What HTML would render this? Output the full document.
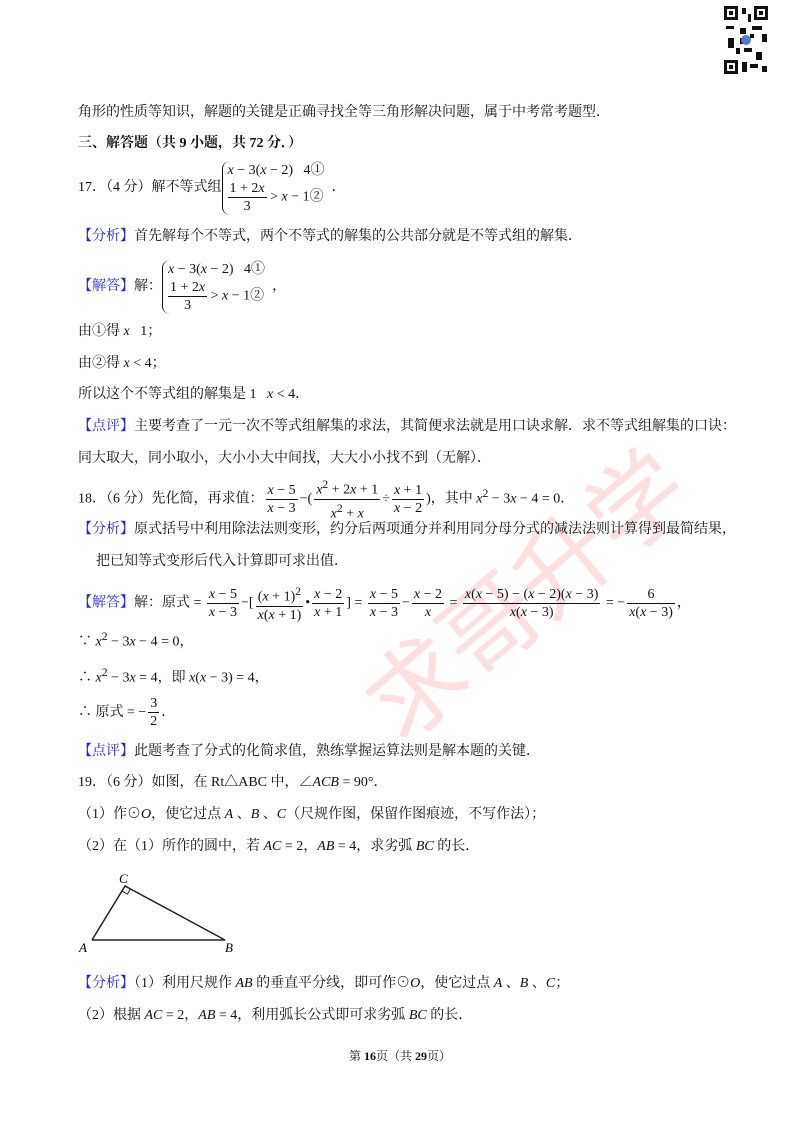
<!DOCTYPE html>
<html><head><meta charset="utf-8"><style>
body{margin:0;background:#fff}
#p{position:relative;width:800px;height:1132px;overflow:hidden;font-family:"Liberation Serif","Noto Serif CJK SC","Noto Sans CJK SC",serif;font-size:14px;color:#111}
.l{position:absolute;left:78px;white-space:nowrap;line-height:18px}
.b{color:#2323d8}
i{font-style:italic}
.fr{display:inline-block;vertical-align:middle;text-align:center;font-size:14px;line-height:17px;margin:0 2px}
.fr>span{display:block;padding:0 2px}
.fr>span:first-child{border-bottom:1px solid #111}
.br{display:inline-block;vertical-align:middle;border-left:1.5px solid #111;border-radius:8px 0 0 8px;padding-left:5px;font-size:14px;line-height:19px}
.wm{position:absolute;left:330px;top:520px;font-size:96px;color:rgba(240,80,80,0.18);transform:rotate(-40deg);font-family:"Noto Sans CJK SC",sans-serif;white-space:nowrap}
</style></head><body><div id="p">
<svg style="position:absolute;left:722px;top:4px" width="48" height="72" viewBox="0 0 48 72">
<rect width="48" height="72" fill="#fff"/>
<g fill="#111"><rect x="2" y="2" width="14" height="14"/><rect x="32" y="2" width="14" height="14"/><rect x="2" y="56" width="14" height="14"/>
<rect x="5" y="5" width="8" height="8" fill="#fff"/><rect x="35" y="5" width="8" height="8" fill="#fff"/><rect x="5" y="59" width="8" height="8" fill="#fff"/>
<rect x="7" y="7" width="4" height="4"/><rect x="37" y="7" width="4" height="4"/><rect x="7" y="61" width="4" height="4"/>
<rect x="20" y="4" width="4" height="6"/><rect x="26" y="10" width="3" height="8"/><rect x="4" y="22" width="8" height="3"/><rect x="18" y="24" width="6" height="6"/><rect x="30" y="22" width="10" height="4"/><rect x="40" y="30" width="5" height="8"/><rect x="6" y="34" width="6" height="10"/><rect x="22" y="44" width="8" height="4"/><rect x="34" y="48" width="6" height="8"/><rect x="20" y="58" width="5" height="10"/><rect x="28" y="60" width="8" height="4"/><rect x="40" y="62" width="5" height="6"/><rect x="14" y="44" width="4" height="6"/><rect x="18" y="34" width="3" height="6"/><rect x="28" y="30" width="4" height="4"/></g>
<circle cx="24" cy="36" r="5" fill="#4a7fd0"/></svg>
<div class="wm">求哥升学</div>
<div class="l" style="top:104px">角形的性质等知识，解题的关键是正确寻找全等三角形解决问题，属于中考常考题型．</div>
<div class="l" style="top:135px;font-weight:bold">三、解答题（共 9 小题，共 72 分．）</div>
<div class="l" style="top:158px;line-height:60px">17．（4 分）解不等式组<span class="br"><i>x</i> − 3(<i>x</i> − 2)&nbsp;&nbsp; 4①<br><span class="fr" style="margin:0"><span>1 + 2<i>x</i></span><span>3</span></span> &gt; <i>x</i> − 1②</span>&nbsp;&nbsp;．</div>
<div class="l" style="top:228px"><span class="b">【分析】</span>首先解每个不等式，两个不等式的解集的公共部分就是不等式组的解集．</div>
<div class="l" style="top:257px;line-height:60px"><span class="b">【解答】</span>解：<span class="br"><i>x</i> − 3(<i>x</i> − 2)&nbsp;&nbsp; 4①<br><span class="fr" style="margin:0"><span>1 + 2<i>x</i></span><span>3</span></span> &gt; <i>x</i> − 1②</span>&nbsp;&nbsp;，</div>
<div class="l" style="top:323px">由①得 <i>x</i>&nbsp;&nbsp; 1；</div>
<div class="l" style="top:355px">由②得 <i>x</i> &lt; 4；</div>
<div class="l" style="top:386px">所以这个不等式组的解集是 1&nbsp;&nbsp; <i>x</i> &lt; 4．</div>
<div class="l" style="top:418px"><span class="b">【点评】</span>主要考查了一元一次不等式组解集的求法，其简便求法就是用口诀求解．求不等式组解集的口诀：</div>
<div class="l" style="top:450px">同大取大，同小取小，大小小大中间找，大大小小找不到（无解）．</div>
<div class="l" style="top:475px;line-height:38px">18．（6 分）先化简，再求值：<span class="fr"><span><i>x</i> − 5</span><span><i>x</i> − 3</span></span>−(<span class="fr"><span><i>x</i><sup>2</sup> + 2<i>x</i> + 1</span><span><i>x</i><sup>2</sup> + <i>x</i></span></span>÷<span class="fr"><span><i>x</i> + 1</span><span><i>x</i> − 2</span></span>)，其中 <i>x</i><sup>2</sup> − 3<i>x</i> − 4 = 0．</div>
<div class="l" style="top:521px"><span class="b">【分析】</span>原式括号中利用除法法则变形，约分后两项通分并利用同分母分式的减法法则计算得到最简结果，</div>
<div class="l" style="top:553px;left:96px">把已知等式变形后代入计算即可求出值．</div>
<div class="l" style="top:583px;line-height:40px"><span class="b">【解答】</span>解：原式 = <span class="fr"><span><i>x</i> − 5</span><span><i>x</i> − 3</span></span>−[<span class="fr"><span>(<i>x</i> + 1)<sup>2</sup></span><span><i>x</i>(<i>x</i> + 1)</span></span>•<span class="fr"><span><i>x</i> − 2</span><span><i>x</i> + 1</span></span>] = <span class="fr"><span><i>x</i> − 5</span><span><i>x</i> − 3</span></span>−<span class="fr"><span><i>x</i> − 2</span><span><i>x</i></span></span> = <span class="fr"><span><i>x</i>(<i>x</i> − 5) − (<i>x</i> − 2)(<i>x</i> − 3)</span><span><i>x</i>(<i>x</i> − 3)</span></span> = −<span class="fr"><span>6</span><span><i>x</i>(<i>x</i> − 3)</span></span>，</div>
<div class="l" style="top:628px">∵ <i>x</i><sup>2</sup> − 3<i>x</i> − 4 = 0，</div>
<div class="l" style="top:664px">∴ <i>x</i><sup>2</sup> − 3<i>x</i> = 4，即 <i>x</i>(<i>x</i> − 3) = 4，</div>
<div class="l" style="top:693px;line-height:40px">∴ 原式 = −<span class="fr"><span>3</span><span>2</span></span>．</div>
<div class="l" style="top:743px"><span class="b">【点评】</span>此题考查了分式的化简求值，熟练掌握运算法则是解本题的关键．</div>
<div class="l" style="top:774px">19．（6 分）如图，在 Rt△ABC 中，∠<i>ACB</i> = 90°．</div>
<div class="l" style="top:806px">（1）作⊙<i>O</i>，使它过点 <i>A</i> 、<i>B</i> 、<i>C</i>（尺规作图，保留作图痕迹，不写作法）；</div>
<div class="l" style="top:838px">（2）在（1）所作的圆中，若 <i>AC</i> = 2，<i>AB</i> = 4，求劣弧 <i>BC</i> 的长．</div>
<svg style="position:absolute;left:75px;top:868px" width="170" height="90">
<polyline points="17,72 50,18 150,72 17,72" fill="none" stroke="#222" stroke-width="1.5"/>
<rect x="50" y="18" width="6" height="6" fill="none" stroke="#222" transform="rotate(28 50 18)"/>
<text x="44" y="15" font-size="13" font-style="italic" font-family="Liberation Serif">C</text>
<text x="4" y="84" font-size="13" font-style="italic" font-family="Liberation Serif">A</text>
<text x="150" y="84" font-size="13" font-style="italic" font-family="Liberation Serif">B</text></svg>
<div class="l" style="top:975px"><span class="b">【分析】</span>（1）利用尺规作 <i>AB</i> 的垂直平分线，即可作⊙<i>O</i>，使它过点 <i>A</i> 、<i>B</i> 、<i>C</i>；</div>
<div class="l" style="top:1007px">（2）根据 <i>AC</i> = 2，<i>AB</i> = 4，利用弧长公式即可求劣弧 <i>BC</i> 的长．</div>
<div class="l" style="top:1047px;left:0;width:800px;text-align:center;font-size:12px">第 <b>16</b>页（共 <b>29</b>页）</div>
</div></body></html>
